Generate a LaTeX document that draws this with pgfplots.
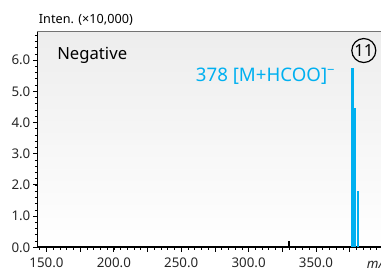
\documentclass[border=0pt]{standalone}
\usepackage{pgfplots}
\pgfplotsset{compat=1.18}
\usepackage{fontspec}
\setmainfont{Noto Sans}
\definecolor{msblue}{RGB}{0,176,240}
\begin{document}
\begin{tikzpicture}
\useasboundingbox (-28pt,-15.5pt) rectangle (257.8pt,185.5pt);
\begin{axis}[
  at={(0pt,0pt)}, anchor=south west,
  scale only axis, width=262pt, height=162.2pt,
  xmin=143.2, xmax=402.4, ymin=0, ymax=6.93,
  axis x line*=bottom, axis y line*=left,
  x axis line style={-, line width=1.3pt},
  y axis line style={-, line width=0.8pt},
  axis background/.style={shade, top color=black!7, middle color=black!1.5, bottom color=white},
  xtick={150,200,...,350}, minor xtick={145,150,...,400},
  extra x ticks={175,225,275,325,375}, extra x tick labels={},
  ytick={0,1,...,6}, minor ytick={0,0.2,...,6.9},
  tick align=outside,
  major tick length=3.2pt, minor tick length=1.8pt,
  tick style={black, line width=0.6pt},
  minor tick style={black, line width=0.5pt},
  tick label style={font=\fontsize{10}{12}\selectfont, text=black!85},
  /pgf/number format/assume math mode=true,
  xticklabel style={yshift=-1.5pt, /pgf/number format/.cd, fixed, fixed zerofill, precision=1, 1000 sep={}},
  yticklabel style={xshift=1.5pt, /pgf/number format/.cd, fixed, fixed zerofill, precision=1},
  clip=false,
]
\addplot[ycomb, black, line width=1.5pt] coordinates {(330.0,0.21)};
\addplot[ycomb, msblue, line width=2.2pt] coordinates {(377.0,5.76)};
\addplot[ycomb, msblue, line width=2pt] coordinates {(378.9,4.45)};
\addplot[ycomb, msblue, line width=1.6pt] coordinates {(380.9,1.80)};
\draw[black!55, line width=0.8pt] (rel axis cs:0,1) -- (rel axis cs:1,1);
\end{axis}
\node[anchor=base west, inner sep=0pt, font=\fontsize{9.5}{11}\selectfont] at (1pt,168pt) {Inten. (×10,000)};
\node[anchor=base west, inner sep=0pt, font=\fontsize{12.5}{14}\selectfont] at (14.8pt,141pt) {Negative};
\node[anchor=base west, inner sep=0pt, text=msblue, font=\fontsize{14}{16}\selectfont] at (118.8pt,124.2pt) {378 [M+HCOO]\textsuperscript{−}};
\draw[black, line width=0.9pt] (244.9pt,147.6pt) circle (9pt);
\node[inner sep=0pt, font=\fontsize{12.5}{14}\selectfont] at (244.9pt,147.4pt) {11};
\node[anchor=west, inner sep=0pt, font=\itshape\fontsize{10}{12}\selectfont, text=black!85] at (247pt,-12pt) {m/z};
\end{tikzpicture}
\end{document}
